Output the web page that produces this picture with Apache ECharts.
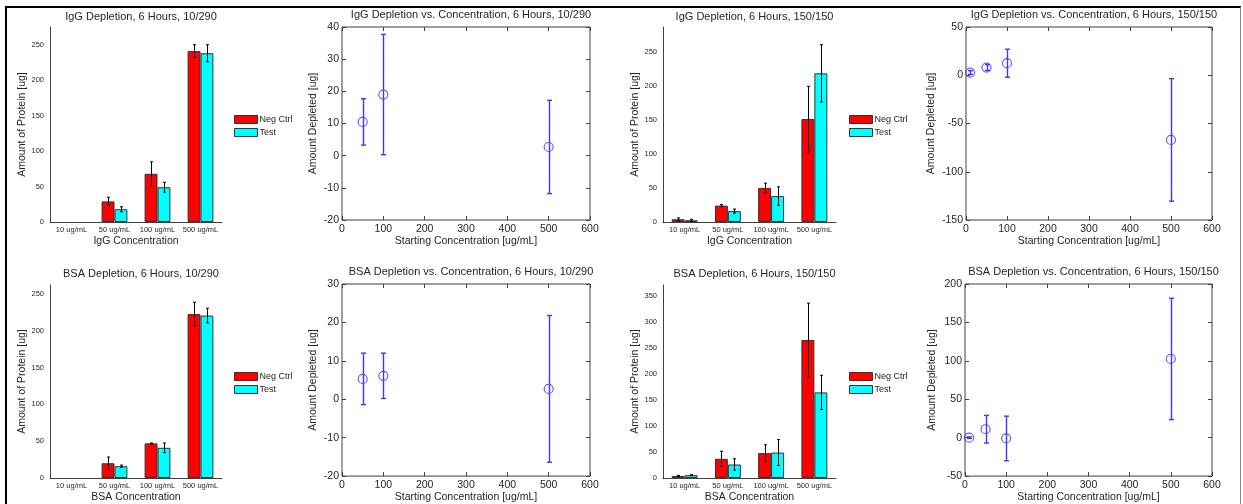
<!DOCTYPE html>
<html><head><meta charset="utf-8">
<script src="https://cdn.jsdelivr.net/npm/echarts@6/dist/echarts.min.js"></script>
<style>html,body{margin:0;padding:0;background:#fff}#c{width:1243px;height:504px}</style>
</head><body><div id="c"></div>
<script>
// ---------- DATA ----------
const categories = ['10 ug/mL', '50 ug/mL', '100 ug/mL', '500 ug/mL'];
const legendNames = ['Neg Ctrl', 'Test'];

// IgG, 10/290 (bar)  (no bar visible at 10 ug/mL)
const iggA_neg = [null, 29, 68, 241];
const iggA_negErr = [0, 6, 17, 9];
const iggA_test = [null, 18, 49, 238];
const iggA_testErr = [0, 3.5, 7, 12];
// IgG, 150/150 (bar)
const iggB_neg = [4, 24, 50, 151];
const iggB_negErr = [2, 1.5, 7, 48];
const iggB_test = [2.5, 16, 38, 218];
const iggB_testErr = [1.5, 3, 13.5, 42];
// BSA, 10/290 (bar)
const bsaA_neg = [null, 20, 47, 222.5];
const bsaA_negErr = [0, 8.5, 0.5, 16];
const bsaA_test = [null, 16, 41, 220.5];
const bsaA_testErr = [0, 1.5, 6.5, 10];
// BSA, 150/150 (bar)
const bsaB_neg = [4, 37, 48, 266];
const bsaB_negErr = [1, 14.5, 16, 71];
const bsaB_test = [5.5, 26, 49, 165];
const bsaB_testErr = [1, 11, 25, 33];

// Depletion vs concentration (scatter + error bars)
const iggA_conc = [50, 100, 500];
const iggA_dep = [10.5, 19, 2.7];
const iggA_depErr = [7.2, 18.7, 14.5];
const iggB_conc = [10, 50, 100, 500];
const iggB_dep = [2.8, 8, 12.5, -67];
const iggB_depErr = [2, 3, 14.5, 63.5];
const bsaA_conc = [50, 100, 500];
const bsaA_dep = [5.3, 6.1, 2.7];
const bsaA_depErr = [6.7, 5.9, 19.1];
const bsaB_conc = [10, 50, 100, 500];
const bsaB_dep = [0, 11, -1, 102.5];
const bsaB_depErr = [1, 18, 29, 79];

// ---------- BUILD ----------
const FONT = '"Liberation Sans", Arial, sans-serif';
const TXT = '#262626';
const AX = '#404040';
const BLUE = '#3a3aff';

const grids = [], xAxes = [], yAxes = [], series = [], titles = [], legends = [];

function errSeries(xi, yi, xs, means, errs, offsetFrac, color, capHalf, isCat, lw) {
  const data = [];
  means.forEach((m, i) => {
    if (errs[i] > 0 && m != null) data.push([isCat ? i : xs[i], m - errs[i], m + errs[i]]);
  });
  return {
    type: 'custom', xAxisIndex: xi, yAxisIndex: yi, data: data, silent: true, z: 10,
    encode: { x: 0, y: [1, 2] },
    itemStyle: { color: color, borderColor: color },
    renderItem: function (params, api) {
      const x = api.value(0);
      const lo = api.coord([x, api.value(1)]);
      const hi = api.coord([x, api.value(2)]);
      let off = 0;
      if (isCat) off = api.size([1, 0])[0] * offsetFrac;
      const cx = Math.round(lo[0] + off) + 0.5;
      const mk = (x1, y1, x2, y2) => ({ type: 'line', shape: { x1: x1, y1: y1, x2: x2, y2: y2 },
        style: { stroke: color, lineWidth: lw } });
      return { type: 'group', children: [
        mk(cx, lo[1], cx, hi[1]),
        mk(cx - capHalf, lo[1], cx + capHalf, lo[1]),
        mk(cx - capHalf, hi[1], cx + capHalf, hi[1])
      ] };
    }
  };
}

function addBarPanel(c) {
  const g = grids.length;
  grids.push({ left: c.left, top: c.top, width: c.width, height: c.height });
  const xi = xAxes.length, yi = yAxes.length;
  xAxes.push({
    type: 'category', gridIndex: g, data: categories,
    axisLine: { onZero: false, lineStyle: { color: AX, width: 1 } }, axisTick: { show: false },
    axisLabel: { interval: 0, fontSize: 7.5, color: TXT, margin: 4, fontFamily: FONT },
    name: c.xName, nameLocation: 'middle', nameGap: 14,
    nameTextStyle: { fontSize: 10.5, color: TXT, fontFamily: FONT }
  });
  yAxes.push({
    type: 'value', gridIndex: g, min: 0, max: c.yMax, interval: 50,
    axisLine: { show: true, onZero: false, lineStyle: { color: AX, width: 1 } }, axisTick: { show: false },
    splitLine: { show: false },
    axisLabel: { showMaxLabel: false, fontSize: 7.5, color: TXT, margin: 6, fontFamily: FONT },
    name: 'Amount of Protein [ug]', nameLocation: 'middle', nameGap: 22,
    nameTextStyle: { fontSize: 10.5, color: TXT, fontFamily: FONT }
  });
  series.push({ type: 'bar', name: legendNames[0], xAxisIndex: xi, yAxisIndex: yi, data: c.neg,
    barWidth: '30%', barGap: '0%', itemStyle: { color: '#ff0000', borderColor: '#333', borderWidth: 1 } });
  series.push({ type: 'bar', name: legendNames[1], xAxisIndex: xi, yAxisIndex: yi, data: c.test,
    barWidth: '30%', barGap: '0%', itemStyle: { color: '#00ffff', borderColor: '#333', borderWidth: 1 } });
  series.push(errSeries(xi, yi, null, c.neg, c.negErr, -0.15, '#000000', 1.5, true, 1));
  series.push(errSeries(xi, yi, null, c.test, c.testErr, 0.15, '#000000', 1.5, true, 1));
  titles.push({ text: c.title, left: c.left + c.width / 2, top: c.titleTop, textAlign: 'center',
    textStyle: { fontSize: 11, fontWeight: 'normal', color: TXT, fontFamily: FONT } });
  legends.push({ data: legendNames, orient: 'vertical', left: c.legLeft, top: c.legTop,
    itemWidth: 23, itemHeight: 8, itemGap: 4, icon: 'rect',
    itemStyle: { borderColor: '#333', borderWidth: 1 },
    textStyle: { fontSize: 9, color: TXT, fontFamily: FONT, padding: [0, 0, 0, -3] }, padding: 0 });
}

function addScatterPanel(c) {
  const g = grids.length;
  grids.push({ left: c.left, top: c.top, width: c.width, height: c.height, show: true,
    borderColor: AX, borderWidth: 1, backgroundColor: 'rgba(0,0,0,0)' });
  const xi = xAxes.length, yi = yAxes.length;
  const tick = { inside: true, length: 4, lineStyle: { color: AX } };
  xAxes.push({
    type: 'value', gridIndex: g, min: 0, max: 600, interval: 100, position: 'bottom',
    axisLine: { show: false, onZero: false }, axisTick: tick, splitLine: { show: false },
    axisLabel: { fontSize: 10.5, color: TXT, margin: 4, fontFamily: FONT },
    name: 'Starting Concentration [ug/mL]', nameLocation: 'middle', nameGap: 14,
    nameTextStyle: { fontSize: 10.5, color: TXT, fontFamily: FONT }
  });
  xAxes.push({ type: 'value', gridIndex: g, position: 'top', min: 0, max: 600, interval: 100,
    axisLine: { show: false, onZero: false }, axisTick: tick, splitLine: { show: false }, axisLabel: { show: false } });
  yAxes.push({
    type: 'value', gridIndex: g, min: c.yMin, max: c.yMax, interval: c.yInt, position: 'left',
    axisLine: { show: false, onZero: false }, axisTick: tick, splitLine: { show: false },
    axisLabel: { fontSize: 10.5, color: TXT, margin: 3, fontFamily: FONT },
    name: 'Amount Depleted [ug]', nameLocation: 'middle', nameGap: c.yGap,
    nameTextStyle: { fontSize: 10.5, color: TXT, fontFamily: FONT }
  });
  yAxes.push({ type: 'value', gridIndex: g, position: 'right', min: c.yMin, max: c.yMax, interval: c.yInt,
    axisLine: { show: false, onZero: false }, axisTick: tick, splitLine: { show: false }, axisLabel: { show: false } });
  series.push(errSeries(xi, yi, c.xs, c.ys, c.errs, 0, BLUE, 2.5, false, 1.4));
  series.push({ type: 'scatter', xAxisIndex: xi, yAxisIndex: yi, z: 11,
    data: c.xs.map((x, i) => [x, c.ys[i]]), symbol: 'circle', symbolSize: 9,
    itemStyle: { color: 'rgba(0,0,0,0)', borderColor: BLUE, borderWidth: 1.2 } });
  titles.push({ text: c.title, left: c.left + c.width / 2, top: c.titleTop, textAlign: 'center',
    textStyle: { fontSize: 11, fontWeight: 'normal', color: TXT, fontFamily: FONT } });
}

addBarPanel({ left: 50, top: 27, width: 172, height: 195, yMax: 275, xName: 'IgG Concentration',
  title: 'IgG Depletion, 6 Hours, 10/290', titleTop: 6, neg: iggA_neg, negErr: iggA_negErr,
  test: iggA_test, testErr: iggA_testErr, legLeft: 234, legTop: 115 });
addScatterPanel({ left: 342, top: 27, width: 248, height: 193, yMin: -20, yMax: 40, yInt: 10, yGap: 23,
  title: 'IgG Depletion vs. Concentration, 6 Hours, 10/290', titleTop: 4,
  xs: iggA_conc, ys: iggA_dep, errs: iggA_depErr });
addBarPanel({ left: 663, top: 27, width: 173, height: 195, yMax: 286, xName: 'IgG Concentration',
  title: 'IgG Depletion, 6 Hours, 150/150', titleTop: 6, neg: iggB_neg, negErr: iggB_negErr,
  test: iggB_test, testErr: iggB_testErr, legLeft: 849, legTop: 115 });
addScatterPanel({ left: 966, top: 27, width: 246, height: 193, yMin: -150, yMax: 50, yInt: 50, yGap: 29,
  title: 'IgG Depletion vs. Concentration, 6 Hours, 150/150', titleTop: 4,
  xs: iggB_conc, ys: iggB_dep, errs: iggB_depErr });
addBarPanel({ left: 50, top: 285, width: 172, height: 193, yMax: 262, xName: 'BSA Concentration',
  title: 'BSA Depletion, 6 Hours, 10/290', titleTop: 263, neg: bsaA_neg, negErr: bsaA_negErr,
  test: bsaA_test, testErr: bsaA_testErr, legLeft: 234, legTop: 372 });
addScatterPanel({ left: 342, top: 284, width: 248, height: 193, yMin: -20, yMax: 30, yInt: 10, yGap: 23,
  title: 'BSA Depletion vs. Concentration, 6 Hours, 10/290', titleTop: 261,
  xs: bsaA_conc, ys: bsaA_dep, errs: bsaA_depErr });
addBarPanel({ left: 663, top: 285, width: 173, height: 193, yMax: 372, xName: 'BSA Concentration',
  title: 'BSA Depletion, 6 Hours, 150/150', titleTop: 263, neg: bsaB_neg, negErr: bsaB_negErr,
  test: bsaB_test, testErr: bsaB_testErr, legLeft: 849, legTop: 372 });
addScatterPanel({ left: 965, top: 284, width: 247, height: 193, yMin: -50, yMax: 200, yInt: 50, yGap: 27,
  title: 'BSA Depletion vs. Concentration, 6 Hours, 150/150', titleTop: 261,
  xs: bsaB_conc, ys: bsaB_dep, errs: bsaB_depErr });

const chart = echarts.init(document.getElementById('c'), null, { renderer: 'canvas' });
chart.setOption({
  animation: false,
  backgroundColor: '#ffffff',
  title: titles,
  legend: legends,
  grid: grids,
  xAxis: xAxes,
  yAxis: yAxes,
  series: series,
  graphic: [
    { type: 'line', shape: { x1: 5, y1: 7, x2: 1241, y2: 7 }, style: { stroke: '#000', lineWidth: 2 }, silent: true },
    { type: 'line', shape: { x1: 6, y1: 6, x2: 6, y2: 504 }, style: { stroke: '#000', lineWidth: 2 }, silent: true },
    { type: 'line', shape: { x1: 1240.5, y1: 7, x2: 1240.5, y2: 504 }, style: { stroke: '#888', lineWidth: 1 }, silent: true }
  ]
});
</script>
</body></html>
